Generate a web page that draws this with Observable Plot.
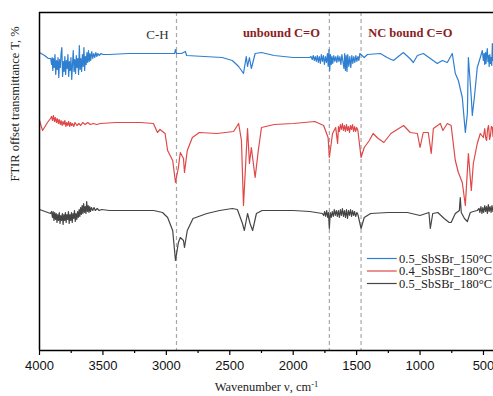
<!DOCTYPE html>
<html>
<head>
<meta charset="utf-8">
<script src="https://cdn.jsdelivr.net/npm/d3@7"></script>
<script src="https://cdn.jsdelivr.net/npm/@observablehq/plot@0.6"></script>
<style>
  html, body { margin: 0; padding: 0; background: #fff; }
  #chart { width: 493px; height: 396px; overflow: hidden; }
</style>
</head>
<body>
<div id="chart"></div>
<script>
// ---- data: [wavenumber cm^-1, offset transmittance] ----
const blueSpectrum = [
  [4000,298],[3960,295],[3930,292],
  [3912,292],[3905,286],[3900,293],[3895,280],[3890,292],[3884,283],[3878,296],[3872,276],[3866,290],
  [3860,281],[3854,293],[3848,273],[3842,291],[3836,283],[3830,297],[3824,303],[3818,274],[3812,289],
  [3806,279],[3800,294],[3794,276],[3788,290],[3782,282],[3776,296],[3770,274],[3764,289],[3758,280],
  [3752,293],[3746,271],[3740,286],[3734,300],[3728,279],[3722,291],[3716,277],[3710,295],[3704,283],
  [3698,292],[3692,276],[3686,305],[3680,281],[3674,292],[3668,279],[3662,296],[3656,284],[3650,303],
  [3644,280],[3638,294],[3632,286],[3626,298],[3620,288],[3614,300],[3608,289],[3602,297],[3596,290],
  [3588,299],[3580,292],[3572,297],[3564,293],[3556,298],[3548,294],[3540,297],[3530,295],[3515,297],
  [3500,296],[3450,296],[3300,297],[3100,297],[2950,297],
  [2935,297],[2928,301],[2920,297],[2880,297],[2850,299],[2840,295],[2700,294],[2560,293],[2480,290],
  [2430,284],[2392,277],[2370,294],[2360,284],[2345,293],[2330,282],[2300,297],[2250,298],[2150,295],
  [2000,293],[1870,293],
  [1860,294],[1850,291],[1842,295],[1834,290],[1826,294],[1818,289],[1810,295],[1802,288],[1794,294],
  [1786,287],[1778,296],[1770,289],[1762,295],[1754,286],[1746,294],[1738,288],[1730,297],[1724,284],
  [1718,301],[1712,280],[1706,296],[1700,286],[1694,294],[1688,287],[1680,295],[1672,289],[1664,294],
  [1656,288],[1648,295],[1640,289],[1632,294],[1624,286],[1616,296],[1608,289],[1600,282],[1594,297],
  [1588,280],[1582,295],[1576,279],[1570,296],[1562,284],[1554,294],[1546,283],[1538,295],[1530,287],
  [1522,294],[1514,288],[1506,295],[1498,289],[1490,294],[1482,290],[1475,297],
  [1440,293],[1415,296],[1313,297],[1260,293],[1210,290],[1132,298],[1080,292],
  [1053,288],[1021,295],[974,297],[919,292],[864,287],[824,290],[785,288],[746,297],[722,277],[698,270],
  [667,253],[643,218],[627,237],[619,293],[596,253],[588,235],[572,253],[549,283],[525,293],[509,300],
  [501,290],[495,297],[490,286],[484,298],[480,287],[475,296],[470,302],[465,289],[460,295],[455,284],
  [450,296],[445,287],[440,293],[435,285],[430,307],[425,290],[421,295]
];
const redSpectrum = [
  [4000,230],[3976,220],[3937,228],[3913,232],[3905,234],[3897,230],[3890,235],[3882,229],[3875,233],
  [3867,228],[3860,232],[3852,227],[3845,231],[3837,226],[3830,230],[3822,225],[3815,229],[3807,226],
  [3800,230],[3792,224],[3785,228],[3777,225],[3770,229],[3762,224],[3755,228],[3747,225],[3740,227],
  [3730,224],[3720,228],[3705,225],[3690,227],[3675,225],[3660,228],[3640,226],[3620,228],[3600,226],
  [3575,227],[3550,226],[3520,227],
  [3400,228],[3200,228],[3102,227],[3070,218],[3050,221],[3010,217],[2990,200],[2950,190],[2928,168],
  [2905,183],[2890,198],[2865,192],[2857,178],[2835,200],[2795,213],[2740,218],[2600,217],[2470,219],
  [2430,227],[2408,210],[2392,145],[2360,222],[2345,187],[2330,203],[2300,173],[2275,200],[2250,223],
  [2150,226],[2000,227],[1830,229],[1760,225],[1725,213],[1715,193],[1690,217],[1665,223],[1650,207],
  [1643,224],[1636,219],[1628,226],[1620,221],[1612,227],[1604,220],[1596,225],[1588,219],[1580,226],
  [1572,220],[1564,224],[1556,218],[1548,225],[1540,221],[1532,226],[1524,219],[1516,224],[1508,219],
  [1500,223],[1490,220],[1465,193],[1440,203],[1400,210],[1370,217],[1330,212],[1285,208],[1230,217],
  [1130,225],[1077,218],[1021,217],[1000,203],[975,218],[935,218],[912,197],[895,222],[840,227],
  [820,220],[785,227],[755,225],[722,190],[698,178],[667,168],[643,145],[627,180],[619,197],[596,160],
  [580,187],[549,207],[525,217],[501,213],[490,222],[482,212],[475,210],[468,221],[460,225],[452,211],
  [445,215],[438,224],[430,223],[425,214],[421,218]
];
const graySpectrum = [
  [4000,141],[3913,137],
  [3905,139],[3898,133],[3892,139],[3886,130],[3880,138],[3874,131],[3868,137],[3862,128],[3856,136],
  [3850,130],[3844,138],[3838,127],[3832,135],[3826,130],[3820,137],[3814,126],[3808,136],[3802,130],
  [3796,138],[3790,128],[3784,136],[3778,131],[3772,139],[3766,127],[3760,136],[3754,130],[3748,138],
  [3742,128],[3736,137],[3730,132],[3724,140],[3718,129],[3712,137],[3706,131],[3700,139],[3694,133],
  [3688,141],[3682,134],[3676,143],[3670,136],[3664,145],[3658,137],[3652,147],[3646,138],[3640,144],
  [3634,137],[3628,149],[3622,139],[3616,145],[3610,138],[3604,144],[3598,139],[3590,143],[3580,140],
  [3570,143],[3560,140],[3545,142],[3530,140],[3510,141],
  [3450,140],[3100,140],[3030,138],[2990,133],[2950,120],[2928,90],[2905,108],[2890,113],[2865,110],
  [2857,103],[2835,120],[2790,132],[2680,137],[2580,140],[2480,142],[2440,141],[2400,127],[2385,120],
  [2360,137],[2340,127],[2320,120],[2290,137],[2245,140],[2000,140],[1870,139],[1770,137],
  [1760,135],[1752,139],[1744,134],[1736,140],[1728,133],[1722,138],[1715,122],[1708,138],[1700,133],
  [1692,139],[1684,134],[1676,141],[1668,135],[1660,140],[1652,134],[1644,140],[1636,133],[1628,141],
  [1620,135],[1612,142],[1604,134],[1596,140],[1588,133],[1580,141],[1572,132],[1564,140],[1556,135],
  [1548,141],[1540,134],[1532,140],[1524,135],[1516,139],[1508,134],[1498,138],[1490,136],
  [1465,122],[1440,133],[1390,137],[1250,138],[1100,138],[1000,135],[930,138],[919,122],[900,137],
  [860,138],[810,132],[770,128],[755,128],[722,137],[690,140],[683,153],[675,138],[650,132],[627,129],
  [604,138],[580,139],[549,140],[535,142],[528,138],[520,144],[512,137],[505,143],[498,138],[490,145],
  [483,139],[476,144],[469,137],[462,146],[455,139],[448,144],[440,138],[433,145],[426,139],[421,143]
];
const seriesNames = ["0.5_SbSBr_150°C", "0.4_SbSBr_180°C", "0.5_SbSBr_180°C"];
const seriesColors = ["#2f7fd1", "#e04848", "#454545"];
const majorTicks = [4000, 3500, 3000, 2500, 2000, 1500, 1000, 500];
const minorTicks = [3750, 3250, 2750, 2250, 1750, 1250, 750];
const markerLines = [2920, 1715, 1465];
const annotationLabels = ["C-H", "unbound C=O", "NC bound C=O"];
const annotationX = [3070, 2093, 1077];
const annotationBold = [false, true, true];

// ---- chart ----
const serif = "'Liberation Serif', 'Times New Roman', serif";
const sans = "'Liberation Sans', Arial, sans-serif";
const spectra = [blueSpectrum, redSpectrum, graySpectrum];
const legendRows = seriesNames.map((name, i) => ({name, color: seriesColors[i], y: 92 - i * 12.5}));
const annotations = annotationLabels.map((label, i) => ({label, x: annotationX[i], bold: annotationBold[i]}));

const chart = Plot.plot({
  width: 493,
  height: 396,
  marginTop: 12,
  marginBottom: 46,
  marginLeft: 39,
  marginRight: 0,
  style: {background: "#fff", fontFamily: sans, overflow: "visible"},
  x: {domain: [4000, 421]},
  y: {domain: [0, 338], axis: null},
  marks: [
    Plot.ruleX(markerLines, {stroke: "#a8a8a8", strokeWidth: 1.2, strokeDasharray: "4,3"}),
    ...spectra.map((s, i) => Plot.line(s, {x: d => d[0], y: d => d[1], stroke: seriesColors[i], strokeWidth: 1.2})),
    Plot.ruleY([0], {stroke: "#000", strokeWidth: 1.5}),
    Plot.ruleY([338], {stroke: "#000", strokeWidth: 1.5}),
    Plot.ruleX([4000], {stroke: "#000", strokeWidth: 1.5}),
    Plot.axisX({ticks: majorTicks, tickSize: 5, tickPadding: 5, tickFormat: d => String(d), fontSize: 13, fontFamily: sans, label: null, stroke: "#000", strokeWidth: 1.2, fill: "#111"}),
    Plot.axisX({ticks: minorTicks, tickSize: 3, tickFormat: () => "", label: null, stroke: "#000", strokeWidth: 1.2}),
    Plot.text(annotations.filter(d => !d.bold), {x: "x", y: 316, text: "label", fontFamily: serif, fontSize: 13, fill: "#333"}),
    Plot.text(annotations.filter(d => d.bold), {x: "x", y: 318, text: "label", fontFamily: serif, fontSize: 12.5, fontWeight: "bold", fill: "#8b1e1e"}),
    Plot.ruleY(legendRows, {y: "y", x1: 1415, x2: 1180, stroke: "color", strokeWidth: 1.2}),
    Plot.text(legendRows, {x: 1165, y: "y", text: "name", textAnchor: "start", fontFamily: serif, fontSize: 12.5, fill: "#222"}),
    Plot.text(["FTIR offset transmittance T, %"], {frameAnchor: "left", dx: -25, rotate: -90, fontFamily: serif, fontSize: 12.5, fill: "#222"}),
    Plot.text(["Wavenumber ν, cm-1"], {frameAnchor: "bottom", dy: 40, fontFamily: serif, fontSize: 12.5, fill: "#222"})
  ]
});

document.getElementById("chart").appendChild(chart);

// superscript for cm-1
d3.select(chart).selectAll("text").each(function() {
  if (this.textContent === "Wavenumber ν, cm-1") {
    const t = d3.select(this);
    t.text(null);
    t.append("tspan").text("Wavenumber ν, cm");
    t.append("tspan").attr("dy", "-0.45em").attr("font-size", "8.5").text("-1");
  }
});
</script>
</body>
</html>
